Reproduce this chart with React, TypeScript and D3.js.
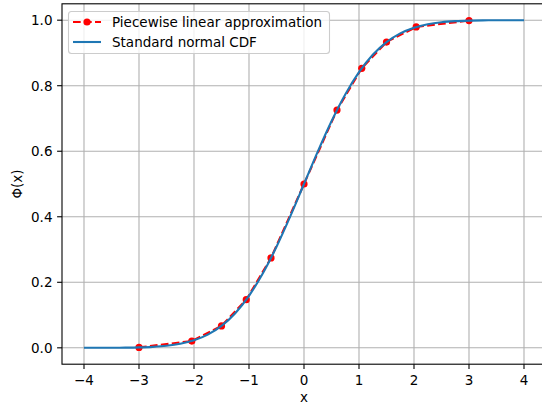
import React from "react";
import * as d3 from "d3";

const cdfX = [-4, -3.75, -3.5, -3.25, -3, -2.75, -2.5, -2.25, -2, -1.75, -1.5, -1.25, -1, -0.75, -0.5, -0.25, 0,
  0.25, 0.5, 0.75, 1, 1.25, 1.5, 1.75, 2, 2.25, 2.5, 2.75, 3, 3.25, 3.5, 3.75, 4];
const cdfY = [0.00003, 0.00009, 0.00023, 0.00058, 0.00135, 0.00298, 0.00621, 0.01222, 0.02275, 0.04006, 0.06681,
  0.10565, 0.15866, 0.22663, 0.30854, 0.40129, 0.5, 0.59871, 0.69146, 0.77337, 0.84134, 0.89435, 0.93319,
  0.95994, 0.97725, 0.98778, 0.99379, 0.99702, 0.99865, 0.99942, 0.99977, 0.99991, 0.99997];

const pwX = [-3, -2.04, -1.5, -1.05, -0.6, 0, 0.6, 1.05, 1.5, 2.04, 3];
const pwY = [0.0013, 0.0207, 0.0668, 0.1469, 0.2743, 0.5, 0.7257, 0.8531, 0.9332, 0.9793, 0.9987];

const xTicks = [-4, -3, -2, -1, 0, 1, 2, 3, 4];
const yTicks = [0.0, 0.2, 0.4, 0.6, 0.8, 1.0];

const W = 542, H = 406;
const L = 62, R = 546, T = 3.8, B = 364.2;
const FONT = "DejaVu Sans, sans-serif";
const FS = 13.5;

export default function App() {
  const x = d3.scaleLinear().domain([-4.4, 4.4]).range([L, R]);
  const y = d3.scaleLinear().domain([-0.05, 1.05]).range([B, T]);
  const cdfPath = d3.line<[number, number]>().x(d => x(d[0])).y(d => y(d[1])).curve(d3.curveMonotoneX)(
    cdfX.map((v, i) => [v, cdfY[i]] as [number, number])
  );
  const pwPath = d3.line<[number, number]>().x(d => x(d[0])).y(d => y(d[1]))(
    pwX.map((v, i) => [v, pwY[i]] as [number, number])
  );
  return (
    <svg width={W} height={H} style={{ position: "absolute", left: 0, top: 0 }} fontFamily={FONT}>
      <rect x={0} y={0} width={W} height={H} fill="#fff" />
      <defs>
        <clipPath id="plot">
          <rect x={L} y={T} width={R - L} height={B - T} />
        </clipPath>
      </defs>
      {xTicks.map(t => (
        <line key={"gx" + t} x1={x(t)} x2={x(t)} y1={T} y2={B} stroke="#b0b0b0" strokeWidth={1.1} />
      ))}
      {yTicks.map(t => (
        <line key={"gy" + t} x1={L} x2={R} y1={y(t)} y2={y(t)} stroke="#b0b0b0" strokeWidth={1.1} />
      ))}
      <g clipPath="url(#plot)">
        <path d={pwPath || ""} fill="none" stroke="#ff0000" strokeWidth={2.1} strokeDasharray="7.7,3.3" />
        {pwX.map((v, i) => (
          <circle key={"p" + i} cx={x(v)} cy={y(pwY[i])} r={3.6} fill="#ff0000" />
        ))}
        <path d={cdfPath || ""} fill="none" stroke="#1f77b4" strokeWidth={2.1} />
      </g>
      <rect x={L} y={T} width={R - L} height={B - T} fill="none" stroke="#000" strokeWidth={1.1} />
      {xTicks.map(t => (
        <g key={"tx" + t}>
          <line x1={x(t)} x2={x(t)} y1={B} y2={B + 4.9} stroke="#000" strokeWidth={1.1} />
          <text x={x(t)} y={B + 20.5} fontSize={FS} textAnchor="middle" fill="#000">
            {t < 0 ? "\u2212" + Math.abs(t) : String(t)}
          </text>
        </g>
      ))}
      {yTicks.map(t => (
        <g key={"ty" + t}>
          <line x1={L - 4.9} x2={L} y1={y(t)} y2={y(t)} stroke="#000" strokeWidth={1.1} />
          <text x={L - 9.5} y={y(t) + 4.9} fontSize={FS} textAnchor="end" fill="#000">
            {t.toFixed(1)}
          </text>
        </g>
      ))}
      <text x={x(0)} y={402} fontSize={FS} textAnchor="middle" fill="#000">x</text>
      <text transform={`translate(22, ${(T + B) / 2}) rotate(-90)`} fontSize={FS} textAnchor="middle" fill="#000">
        Φ(x)
      </text>
      <g>
        <rect x={68.5} y={11.5} width={261} height={42} rx={3} fill="#fff" fillOpacity={0.8} stroke="#cccccc" strokeWidth={1.1} />
        <line x1={73} x2={101} y1={22} y2={22} stroke="#ff0000" strokeWidth={2.1} strokeDasharray="7.7,3.3" />
        <circle cx={87} cy={22} r={3.6} fill="#ff0000" />
        <text x={112} y={26.8} fontSize={FS} fill="#000">Piecewise linear approximation</text>
        <line x1={73} x2={101} y1={42} y2={42} stroke="#1f77b4" strokeWidth={2.1} />
        <text x={112} y={46.8} fontSize={FS} fill="#000">Standard normal CDF</text>
      </g>
    </svg>
  );
}
